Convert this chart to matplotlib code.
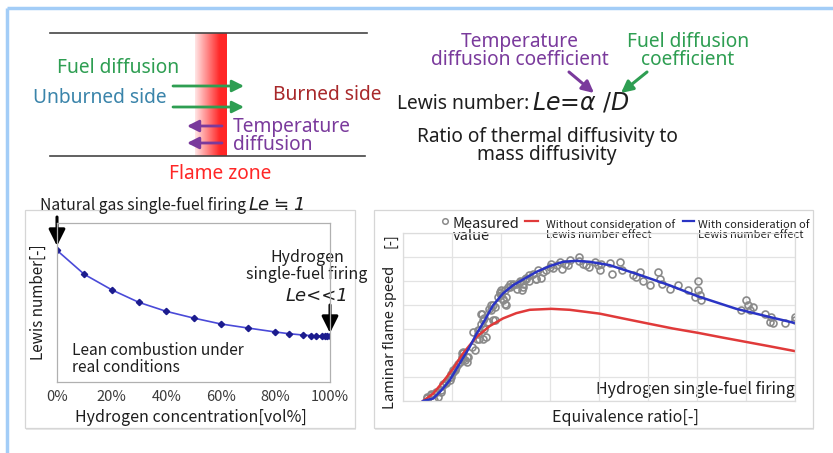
import numpy as np
import matplotlib
matplotlib.use("Agg")
import matplotlib.pyplot as plt

W, H = 833, 453

# Lewis number against hydrogen share of the fuel
h2_conc = [0, 10, 20, 30, 40, 50, 60, 70, 80, 85, 90, 93, 95, 97, 98, 99, 100]
lewis = [1.0, 0.818, 0.701, 0.605, 0.537, 0.486, 0.441, 0.410, 0.380, 0.367,
         0.357, 0.353, 0.350, 0.349, 0.349, 0.349, 0.349]
conc_ticks = [0, 20, 40, 60, 80, 100]
conc_labels = ["0%", "20%", "40%", "60%", "80%", "100%"]

# laminar flame speed, hydrogen single-fuel firing
phi_with_le = [0.204, 0.306, 0.391, 0.476, 0.578, 0.680, 0.748, 0.833, 0.918, 1.020,
               1.122, 1.258, 1.361, 1.497, 1.633, 1.769, 1.905, 2.109, 2.381, 2.721,
               3.010, 3.401, 3.741, 3.997]
speed_with_le = [0.0, 0.05, 0.22, 0.43, 0.78, 1.125, 1.39, 1.68, 1.99, 2.24,
                 2.41, 2.57, 2.69, 2.81, 2.90, 2.92, 2.90, 2.83, 2.65, 2.41,
                 2.18, 1.92, 1.75, 1.625]
phi_without_le = [0.204, 0.306, 0.408, 0.510, 0.612, 0.748, 0.884, 1.020, 1.156, 1.293,
                  1.514, 1.701, 2.007, 2.245, 2.510, 2.755, 3.010, 3.265, 3.503, 3.741,
                  3.997]
speed_without_le = [0.0, 0.15, 0.40, 0.67, 0.99, 1.33, 1.56, 1.72, 1.83, 1.90,
                    1.92, 1.90, 1.82, 1.72, 1.61, 1.51, 1.42, 1.32, 1.23, 1.14,
                    1.04]
meas_phi = [0.24, 0.29, 0.32, 0.34, 0.39, 0.41, 0.44, 0.48, 0.49, 0.51, 0.53, 0.54,
            0.58, 0.60, 0.61, 0.63, 0.65, 0.66, 0.70, 0.71, 0.73, 0.75, 0.77, 0.78,
            0.80, 0.81, 0.83, 0.85, 0.83, 0.88, 0.90, 0.92, 0.94, 0.97, 0.99, 1.00,
            1.02, 1.04, 1.05, 1.07, 1.09, 1.12, 1.16, 1.19, 1.21, 1.22, 1.24, 1.26,
            1.29, 1.33, 1.36, 1.38, 1.41, 1.43, 1.46, 1.50, 1.51, 1.53, 1.57, 1.60,
            1.62, 1.65, 1.68, 1.70, 1.80, 1.80, 1.84, 1.87, 1.90, 1.96, 1.99, 2.01,
            2.02, 2.11, 2.13, 2.21, 2.23, 2.35, 2.38, 2.42, 2.45, 2.52, 2.60, 2.62,
            2.64, 2.72, 2.81, 2.91, 2.98, 3.01, 3.01, 3.03, 3.04, 3.45, 3.50, 3.52,
            3.54, 3.57, 3.69, 3.74, 3.76, 3.78, 3.90, 4.00, 4.00,
            0.24, 0.29, 0.32, 0.36, 0.39, 0.41, 0.44, 0.48, 0.49, 0.51, 0.53, 0.56,
            0.60, 0.61, 0.61, 0.65, 0.77, 0.78, 0.82, 0.80, 0.82, 0.87, 0.90, 0.94,
            0.92, 0.99, 1.00, 1.02, 1.04, 1.05, 1.09, 1.12, 1.16, 1.19, 1.22, 1.26,
            1.29, 1.36]
meas_speed = [0.07, 0.14, 0.03, 0.19, 0.22, 0.33, 0.375, 0.43, 0.50, 0.60, 0.64, 0.71,
              0.81, 0.92, 0.99, 0.85, 0.81, 0.92, 1.125, 1.44, 1.06, 1.30, 1.40, 1.47,
              1.61, 1.82, 1.72, 1.33, 1.51, 1.92, 1.99, 1.68, 1.96, 2.17, 2.27, 2.20,
              2.13, 2.31, 1.99, 2.375, 2.375, 2.44, 2.44, 2.51, 2.31, 2.375, 2.55, 2.57,
              2.62, 2.65, 2.55, 2.72, 2.57, 2.69, 2.72, 2.79, 2.86, 2.78, 2.83, 2.90,
              2.76, 2.86, 2.83, 2.93, 3.00, 2.92, 2.86, 2.83, 2.79, 2.90, 2.83, 2.72,
              2.86, 2.875, 2.65, 2.90, 2.72, 2.62, 2.58, 2.69, 2.50, 2.41, 2.69, 2.55,
              2.44, 2.34, 2.41, 2.31, 2.17, 2.50, 2.31, 2.20, 2.11, 1.89, 2.10, 1.99,
              1.89, 1.96, 1.81, 1.65, 1.76, 1.625, 1.625, 1.75, 1.68,
              0.08, 0.12, 0.15, 0.08, 0.19, 0.36, 0.40, 0.50, 0.57, 0.64, 0.67, 0.78,
              0.99, 1.02, 0.88, 0.92, 1.47, 1.30, 1.30, 1.82, 1.68, 1.65, 1.89, 1.68,
              1.99, 2.24, 2.31, 2.10, 2.03, 2.17, 2.44, 2.41, 2.34, 2.48, 2.44, 2.55,
              2.51, 2.55]

GREEN = "#2e9e52"
PURPLE = "#7a3a9c"
TEAL = "#3a84aa"
DARKRED = "#a8282a"
FLAME = "#ff2626"
TXT = "#1e1e1e"

plt.rcParams["font.family"] = ["Noto Sans CJK JP", "DejaVu Sans"]
SKETCH = ["Noto Sans", "DejaVu Sans"]

fig = plt.figure(figsize=(W / 100, H / 100), dpi=100)
fig.patch.set_facecolor("white")

# overlay in pixel units for the sketch, boxes and labels
ov = fig.add_axes([0, 0, 1, 1], zorder=0)
ov.set_xlim(0, W)
ov.set_ylim(H, 0)
ov.axis("off")

# page border
ov.plot([7, 7], [8, H], color="#a3cdf7", lw=2.5, solid_capstyle="butt")
ov.plot([7, W], [8, 8], color="#a3cdf7", lw=2.5, solid_capstyle="butt")

# flame zone band, pale on the unburned side
ramp = np.clip(np.linspace(0.12, 1.25, 80), 0, 1)
band = np.zeros((1, 80, 4))
band[..., 0] = 1.0
band[..., 1] = 0.15
band[..., 2] = 0.15
band[0, :, 3] = ramp
ov.imshow(band, extent=[195, 227, 156, 33], aspect="auto", interpolation="bilinear", zorder=1)
ov.set_xlim(0, W)
ov.set_ylim(H, 0)

ov.plot([50, 367], [33, 33], color="#454545", lw=1.2, zorder=2)
ov.plot([50, 365], [156, 156], color="#454545", lw=1.2, zorder=2)

def arrow(x0, y0, x1, y1, color, lw=2.0, hl=0.7, hw=0.35, ms=10):
    ov.annotate("", xy=(x1, y1), xytext=(x0, y0),
                arrowprops=dict(arrowstyle=f"-|>,head_length={hl},head_width={hw}",
                                color=color, lw=lw, mutation_scale=ms,
                                shrinkA=0, shrinkB=0), zorder=3)

arrow(173, 86, 244, 86, GREEN)
arrow(173, 107, 244, 107, GREEN)
arrow(222, 126, 187, 126, PURPLE)
arrow(222, 143, 187, 143, PURPLE)

fs = 13.8
ov.text(57, 68, "Fuel diffusion", color=GREEN, fontsize=fs, va="center", family=SKETCH)
ov.text(33, 98, "Unburned side", color=TEAL, fontsize=fs, va="center", family=SKETCH)
ov.text(273, 95, "Burned side", color=DARKRED, fontsize=fs, va="center", family=SKETCH)
ov.text(233, 136, "Temperature\ndiffusion", color=PURPLE, fontsize=fs, va="center",
        linespacing=0.85, family=SKETCH)
ov.text(220, 174, "Flame zone", color=FLAME, fontsize=fs, va="center", ha="center",
        family=SKETCH)

ov.text(520, 51, "Temperature\ndiffusion coefficient", color=PURPLE, fontsize=fs,
        va="center", ha="center", linespacing=0.87, family=SKETCH)
ov.text(688, 51, "Fuel diffusion\ncoefficient", color=GREEN, fontsize=fs,
        va="center", ha="center", linespacing=0.87, family=SKETCH)
arrow(569, 72, 594, 93, PURPLE, lw=2.2)
arrow(647, 72, 621, 93, GREEN, lw=2.2)
ov.text(397, 104, "Lewis number:", color=TXT, fontsize=fs, va="center", family=SKETCH)
ov.text(532, 103, r"$\mathit{Le}$=$\mathit{\alpha}$ /$\mathit{D}$", color=TXT,
        fontsize=17, va="center", family="DejaVu Sans")
ov.text(547, 146, "Ratio of thermal diffusivity to\nmass diffusivity", color=TXT,
        fontsize=fs, va="center", ha="center", linespacing=0.87, family=SKETCH)

# chart panels
for x0, x1 in [(25, 355), (374, 813)]:
    ov.add_patch(plt.Rectangle((x0 + 1.5, 211.5), x1 - x0, 218, facecolor="#e8e8e8",
                               edgecolor="none", zorder=0))
    ov.add_patch(plt.Rectangle((x0, 210), x1 - x0, 218, facecolor="white",
                               edgecolor="#d6d6d6", lw=0.9, zorder=0))

# left chart: Lewis number
ax1 = fig.add_axes([57 / W, 1 - 382 / H, 273 / W, 159 / H], zorder=2)
ax1.plot(h2_conc, lewis, color="#4a4ad8", lw=1.2, marker="D", ms=3.2,
         mfc="#1c1c8e", mec="#1c1c8e")
ax1.set_xlim(0, 100)
ax1.set_ylim(0, 1.208)
ax1.set_xticks(conc_ticks)
ax1.set_xticklabels(conc_labels, fontsize=10.5, color="#3a3a3a")
ax1.set_yticks([])
ax1.tick_params(axis="x", length=0, pad=6)
for s in ax1.spines.values():
    s.set_color("#b0b0b0")
    s.set_linewidth(0.9)
ax1.patch.set_alpha(0)

fig.text(38 / W, 1 - 302 / H, "Lewis number[-]", rotation=90, fontsize=11, color=TXT,
         ha="center", va="center")
fig.text(191 / W, 1 - 417 / H, "Hydrogen concentration[vol%]", fontsize=11.5,
         color=TXT, ha="center", va="center")
ov.text(40, 205, "Natural gas single-fuel firing", fontsize=11.3, color=TXT, va="center")
ov.text(249, 205, "Le", fontsize=13, color=TXT, va="center", style="italic",
        family="DejaVu Sans")
ov.text(273, 205, "≒", fontsize=13, color=TXT, va="center")
ov.text(293, 205, "1", fontsize=13, color=TXT, va="center", style="italic",
        family="DejaVu Sans")
arrow(57, 217, 57, 246, "black", lw=2.2, hl=0.9, hw=0.45, ms=11)
ov.text(307, 266, "Hydrogen\nsingle-fuel firing", fontsize=11.5, color=TXT,
        ha="center", va="center", linespacing=0.95)
ov.text(348, 296, "Le<<1", fontsize=13, color=TXT, ha="right", va="center",
        style="italic", family="DejaVu Sans")
arrow(330, 305, 330, 333, "black", lw=2.2, hl=0.9, hw=0.45, ms=11)
ov.text(72, 359, "Lean combustion under\nreal conditions", fontsize=11.2, color=TXT,
        va="center", linespacing=0.95)

# right chart: laminar flame speed
ax2 = fig.add_axes([403 / W, 1 - 401 / H, 392 / W, 168 / H], zorder=2)
ax2.plot(meas_phi, meas_speed, ls="none", marker="o", ms=5, mfc="none",
         mec="#8a8a8a", mew=1.2)
ax2.plot(phi_without_le, speed_without_le, color="#e03a3a", lw=1.8)
ax2.plot(phi_with_le, speed_with_le, color="#2a34c4", lw=1.8)
ax2.set_xlim(0, 4.0)
ax2.set_ylim(0, 3.5)
ax2.set_xticks(np.arange(0, 4.01, 0.5))
ax2.set_yticks(np.arange(0, 3.51, 0.5))
ax2.set_xticklabels([])
ax2.set_yticklabels([])
ax2.tick_params(length=0)
ax2.grid(True, color="#e3e3e3", lw=0.9)
ax2.set_axisbelow(True)
for s in ax2.spines.values():
    s.set_color("#dcdcdc")
    s.set_linewidth(0.9)
ax2.patch.set_alpha(0)

ov.plot([445], [221], ls="none", marker="o", ms=4, mfc="none", mec="#8a8a8a", mew=1.1)
ov.text(453, 230, "Measured\nvalue", fontsize=10.5, color=TXT, va="center",
        linespacing=0.85)
ov.plot([525, 538], [221, 221], color="#e03a3a", lw=1.6)
ov.text(546, 230, "Without consideration of\nLewis number effect", fontsize=8.0,
        color=TXT, va="center", linespacing=1.1)
ov.plot([683, 694], [221, 221], color="#2a34c4", lw=1.6)
ov.text(698, 230, "With consideration of\nLewis number effect", fontsize=8.0,
        color=TXT, va="center", linespacing=1.1)

fig.text(390 / W, 1 - 337 / H, "Laminar flame speed", rotation=90, fontsize=10.5,
         color=TXT, ha="center", va="center")
fig.text(390 / W, 1 - 241 / H, "[-]", rotation=90, fontsize=10.5, color=TXT,
         ha="center", va="center")
ov.text(795, 389, "Hydrogen single-fuel firing", fontsize=11.5, color=TXT,
        ha="right", va="center", zorder=5)
ov.text(625, 418, "Equivalence ratio[-]", fontsize=11.5, color=TXT, ha="center",
        va="center")

fig.savefig("out.png", dpi=100, facecolor="white")
